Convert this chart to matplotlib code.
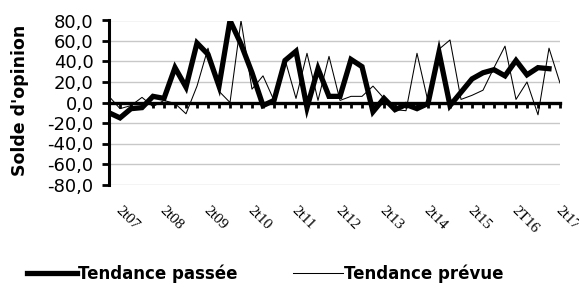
import numpy as np
import matplotlib
matplotlib.use("Agg")
import matplotlib.pyplot as plt
from matplotlib import transforms

# Solde d'opinion par trimestre (2t07 -> 3t17)
passee = [-10, -15, -6, -5, 6, 4, 34, 15, 58, 47, 16, 80, 57, 29, -3, 2, 41, 50, -5, 33,
          6, 6, 42, 35, -9, 4, -7, -2, -6, -1, 49, -3, 10, 23, 29, 32, 26, 41, 27, 34, 33]
prevue = [6, -6, -3, 5, -4, 2, -1, -11, 16, 53, 11, 0, 80, 13, 26, 2, 42, 4, 48, 2,
          45, 2, 6, 6, 16, 4, -7, -8, 48, 1, 52, 61, 3, 7, 12, 34, 55, 3, 20, -12, 53, 19]
year_labels = ["2t07", "2t08", "2t09", "2t10", "2t11", "2t12", "2t13", "2t14", "2t15", "2T16", "2t17"]
yticks = [80, 60, 40, 20, 0, -20, -40, -60, -80]

fig = plt.figure(figsize=(5.79, 2.96), dpi=100)
ax = fig.add_axes([109/579, 1 - 184.5/296, (560 - 109)/579, 164/296])

x_p = np.arange(len(passee))
x_f = np.arange(len(prevue))

ax.plot(x_p, passee, color="black", lw=3.8, solid_joinstyle="miter", label="Tendance passée", zorder=4)
ax.plot(x_f, prevue, color="black", lw=0.75, label="Tendance prévue", zorder=3)

ax.set_xlim(0, len(prevue) - 1)
ax.set_ylim(-80, 80)

# grille
for v in yticks:
    ax.axhline(v, color="#c8c8c8", lw=1.0, zorder=1)

# axes
for s in ["top", "right"]:
    ax.spines[s].set_visible(False)
ax.spines["left"].set_linewidth(2.2)
ax.spines["bottom"].set_position(("data", 0))
ax.spines["bottom"].set_linewidth(2.4)
ax.spines["left"].set_zorder(5)
ax.spines["bottom"].set_zorder(5)

ax.set_yticks(yticks)
ax.set_yticklabels([("%.1f" % v).replace(".", ",") for v in yticks], fontsize=13)
ax.tick_params(axis="y", direction="out", length=5, width=2, pad=6)

ax.set_xticks(x_f)
ax.set_xticklabels([])
ax.tick_params(axis="x", direction="out", length=3.5, width=2)

# étiquettes d'années en bas
off = transforms.ScaledTranslation(4/100, -19/100, fig.dpi_scale_trans)
trans = transforms.blended_transform_factory(ax.transData, ax.transAxes) + off
for i, lab in enumerate(year_labels):
    ax.text(i * 4, 0, lab, transform=trans, rotation=-45, ha="left", va="top",
            fontsize=11, family="Liberation Serif")

fig.text(20/579, 1 - 100/296, "Solde d'opinion", rotation=90, ha="center", va="center",
         fontsize=12.5, fontweight="bold")

fig.legend(loc="center", bbox_to_anchor=(0.458, 0.076), ncol=2, frameon=False,
           prop={"weight": "bold", "size": 12}, handlelength=3.0, handletextpad=0.1,
           columnspacing=3.3)

fig.savefig("out.png", dpi=100)
